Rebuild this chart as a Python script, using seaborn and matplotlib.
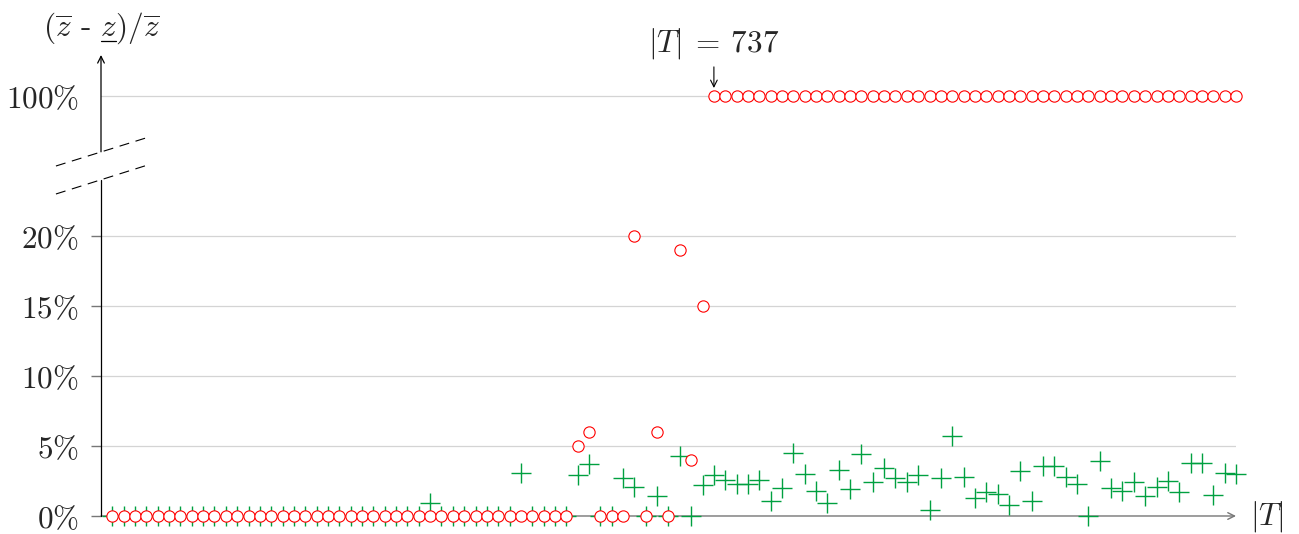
import numpy as np
import matplotlib
matplotlib.use("Agg")
import matplotlib.pyplot as plt
from matplotlib.lines import Line2D
import seaborn as sns

# position of each instance along the |T| axis (the original has no tick labels)
instance = list(range(100))

# (zbar - zunder) / zbar in percent, red circles
gap_red = [
    0, 0, 0, 0, 0, 0, 0, 0, 0, 0,
    0, 0, 0, 0, 0, 0, 0, 0, 0, 0,
    0, 0, 0, 0, 0, 0, 0, 0, 0, 0,
    0, 0, 0, 0, 0, 0, 0, 0, 0, 0,
    0, 5, 6, 0, 0, 0, 20, 0, 6, 0,
    19, 4, 15, 100, 100, 100, 100, 100, 100, 100,
    100, 100, 100, 100, 100, 100, 100, 100, 100, 100,
    100, 100, 100, 100, 100, 100, 100, 100, 100, 100,
    100, 100, 100, 100, 100, 100, 100, 100, 100, 100,
    100, 100, 100, 100, 100, 100, 100, 100, 100, 100,
]

# same quantity, green plus marks
gap_green = [
    0, 0, 0, 0, 0, 0, 0, 0, 0, 0,
    0, 0, 0, 0, 0, 0, 0, 0, 0, 0,
    0, 0, 0, 0, 0, 0, 0, 0, 0.9, 0,
    0, 0, 0, 0, 0, 0, 3.1, 0, 0, 0,
    0, 2.9, 3.7, 0, 0, 2.7, 2.1, 0, 1.4, 0,
    4.3, 0, 2.2, 2.9, 2.6, 2.3, 2.3, 2.6, 1.1, 2.0,
    4.5, 3.0, 1.8, 0.95, 3.3, 1.9, 4.4, 2.4, 3.4, 2.7,
    2.4, 2.9, 0.4, 2.7, 5.7, 2.8, 1.3, 1.7, 1.6, 0.8,
    3.2, 1.1, 3.6, 3.6, 2.8, 2.3, 0, 3.95, 2.0, 1.8,
    2.4, 1.4, 2.1, 2.5, 1.7, 3.8, 3.8, 1.5, 3.05, 3.0,
]

ytick_vals = [0, 5, 10, 15, 20, 100]
ytick_labels = [r"$0\%$", r"$5\%$", r"$10\%$", r"$15\%$", r"$20\%$", r"$100\%$"]

annot_idx = 53
annot_text = r"$|T|\:=\:737$"

RED = "#ff0000"
GREEN = "#00a040"
FS = 22.5


# broken y axis: everything above 25% is squeezed 15x
def squeeze(v):
    v = np.asarray(v, dtype=float)
    return np.where(v <= 25, v, 25 + (v - 25) / 15)


def unsqueeze(u):
    u = np.asarray(u, dtype=float)
    return np.where(u <= 25, u, 25 + (u - 25) * 15)


sns.set_style("white")
plt.rcParams["mathtext.fontset"] = "cm"
plt.rcParams["font.family"] = ["DejaVu Serif", "DejaVu Sans"]

fig = plt.figure(figsize=(12.99, 5.34), dpi=100)
ax = fig.add_axes([101 / 1299, 18 / 534, 1135 / 1299, 461 / 534])

ax.set_yscale("function", functions=(squeeze, unsqueeze))
ax.set_xlim(-1, 99)
ax.set_ylim(0, 144)

sns.scatterplot(x=instance, y=gap_green, marker="+", s=215, color=GREEN,
                linewidth=1.0, ax=ax, zorder=3, clip_on=False)
sns.scatterplot(x=instance, y=gap_red, marker="o", s=66, facecolor="white",
                edgecolor=RED, linewidth=0.8, ax=ax, zorder=4, clip_on=False)

# grid + ticks
ax.set_yticks(ytick_vals)
ax.set_yticklabels(ytick_labels, fontsize=FS)
ax.set_xticks([])
ax.grid(axis="y", color="#d4d4d4", linewidth=0.9)
ax.grid(axis="x", visible=False)
ax.tick_params(axis="y", which="major", length=7.5, width=1.0, color="#777777",
               pad=8.5, left=True)
ax.yaxis.get_major_ticks()[-1].tick1line.set_visible(False)
for s in ax.spines.values():
    s.set_visible(False)

# axes drawn by hand: x arrow, split y axis with break marks
ax.annotate("", xy=(1.0, 0), xytext=(0, 0), xycoords="axes fraction",
            arrowprops=dict(arrowstyle="->", color="#777777", lw=1.0,
                            shrinkA=0, shrinkB=0, mutation_scale=12), zorder=2)
ax.plot([0, 0], [0, 0.7293], transform=ax.transAxes, color="black", lw=0.9,
        clip_on=False, zorder=2)
ax.annotate("", xy=(0, 1.0), xytext=(0, 0.790), xycoords="axes fraction",
            arrowprops=dict(arrowstyle="->", color="black", lw=0.9,
                            shrinkA=0, shrinkB=0, mutation_scale=12), zorder=2)
ax.plot([-0.0397, 0.0403], [0.7592, 0.8206], transform=ax.transAxes,
        color="black", lw=0.8, ls=(0, (9, 6)), clip_on=False)
ax.plot([-0.0397, 0.0403], [0.6985, 0.7607], transform=ax.transAxes,
        color="black", lw=0.8, ls=(0, (9, 6)), clip_on=False)

# axis labels
ax.text(1.027, 0, r"$|T|$", transform=ax.transAxes, fontsize=FS,
        ha="center", va="center")

# y label; mathtext has no \underline so the bar under the middle z is drawn
lab_kw = dict(fontsize=FS, family="cmr10")
ylab = ax.text(0, 1.059, r"$(\overline{z}$ - $z)/\overline{z}$",
               transform=ax.transAxes, ha="center", va="center", **lab_kw)
fig.canvas.draw()
rend = fig.canvas.get_renderer()
bb = ylab.get_window_extent(rend)
tmp = fig.text(0, 0, r"$(\overline{z}$ - $z$", **lab_kw)
w_pre = tmp.get_window_extent(rend).width
tmp.set_text(r"$z$")
w_z = tmp.get_window_extent(rend).width
tmp.remove()
x1 = bb.x0 + w_pre
x0 = x1 - w_z
y_u = bb.y0 + 0.13 * bb.height
inv = fig.transFigure.inverted()
(fx0, fy), (fx1, _) = inv.transform([(x0 + 1, y_u), (x1 - 1, y_u)])
fig.add_artist(Line2D([fx0, fx1], [fy, fy], color="black", lw=0.9,
                      transform=fig.transFigure))

# marker for the first instance that hits 100%
ax.annotate(annot_text, xy=(instance[annot_idx], gap_red[annot_idx]),
            xytext=(0, 38), textcoords="offset points", fontsize=FS,
            ha="center", va="center")
ax.annotate("", xy=(instance[annot_idx], gap_red[annot_idx]),
            xytext=(0, 21), textcoords="offset points",
            arrowprops=dict(arrowstyle="->", color="black", lw=0.8,
                            shrinkA=0, shrinkB=5.8, mutation_scale=12))

fig.savefig("out.png", dpi=100)
